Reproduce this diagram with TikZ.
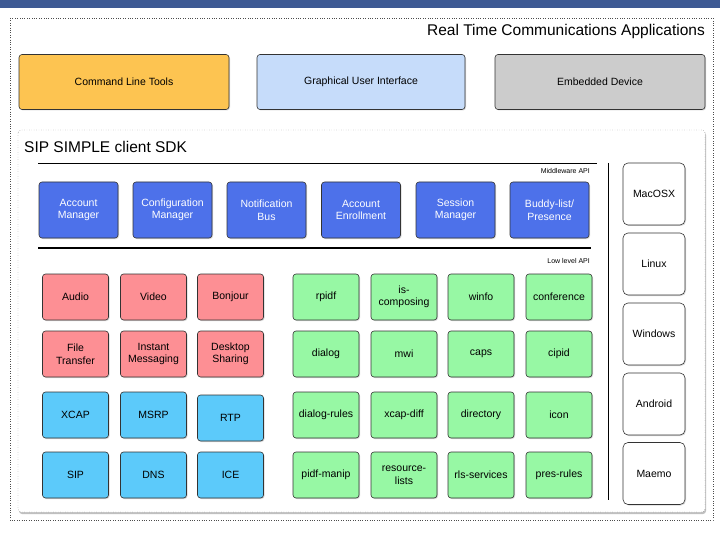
\documentclass[tikz,border=0pt]{standalone}
\usepackage{fontspec}
\setmainfont{Liberation Sans}
\usetikzlibrary{shadows}
\definecolor{topbar}{HTML}{3E5A94}
\definecolor{cyel}{HTML}{FDC451}
\definecolor{clb}{HTML}{C6DCFA}
\definecolor{cgr}{HTML}{CCCCCC}
\definecolor{cmid}{HTML}{4D71EA}
\definecolor{cred}{HTML}{FD8F94}
\definecolor{ccy}{HTML}{5CCAFA}
\definecolor{cgrn}{HTML}{97F8A4}
\begin{document}
\begin{tikzpicture}[x=1pt,y=-1pt,
  box/.style={draw=black!80,rounded corners=3pt,line width=0.6pt,inner sep=0pt,align=center,font=\fontsize{10.5}{12.5}\selectfont,drop shadow={shadow xshift=1pt,shadow yshift=-1pt,opacity=0.3}},
  app/.style={box,minimum width=210pt,minimum height=55pt},
  mid/.style={box,fill=cmid,text=white,minimum width=79pt,minimum height=56pt},
  sm/.style={box,minimum width=66pt,minimum height=46pt},
  os/.style={box,fill=white,minimum width=62pt,minimum height=62pt,rounded corners=5pt},
  lbl/.style={font=\fontsize{7}{8}\selectfont,anchor=east,inner sep=0pt}]
\useasboundingbox (0,0) rectangle (720,540);
\fill[topbar] (0,0) rectangle (720,8);
\draw[dotted,black!70] (10,18) rectangle (713,520);
\node[anchor=east,font=\fontsize{15.5}{17}\selectfont,inner sep=0pt] (rt) at (705,31) {Real Time Communications Applications};
\node[app,fill=cyel] (clt) at (124,82) {Command Line Tools};
\node[app,fill=clb,minimum width=208pt] (gui) at (361,82) {Graphical User Interface};
\node[app,fill=cgr] (emb) at (600,82) {Embedded Device};
\draw[dotted,black!70,fill=white,rounded corners=3pt,drop shadow={shadow xshift=1pt,shadow yshift=-2pt,opacity=0.5}] (18,130) rectangle (705,512);
\node[anchor=west,font=\fontsize{15.5}{17}\selectfont,inner sep=0pt] (sdk) at (24,147) {SIP SIMPLE client SDK};
\draw[line width=0.8pt] (38,163) -- (597,163);
\node[lbl] (mw) at (590,171) {Middleware API};
\node[mid] (m1) at (78.5,210) {Account\\Manager};
\node[mid] (m2) at (172.5,210) {Configuration\\Manager};
\node[mid] (m3) at (266.5,210) {Notification\\Bus};
\node[mid] (m4) at (361,210) {Account\\Enrollment};
\node[mid] (m5) at (455.5,210) {Session\\Manager};
\node[mid] (m6) at (549.5,210) {Buddy-list/\\Presence};
\draw[line width=2pt] (38,248) -- (591,248);
\node[lbl] (ll) at (590,261) {Low level API};
% red
\node[sm,fill=cred] (r1) at (75.5,297) {Audio};
\node[sm,fill=cred] (r2) at (153.5,297) {Video};
\node[sm,fill=cred] (r3) at (230.5,297) {Bonjour};
\node[sm,fill=cred] (r4) at (75.5,354) {File\\Transfer};
\node[sm,fill=cred] (r5) at (153.5,354) {Instant\\Messaging};
\node[sm,fill=cred] (r6) at (230.5,354) {Desktop\\Sharing};
\node[sm,fill=ccy] (b1) at (75.5,415) {XCAP};
\node[sm,fill=ccy] (b2) at (153.5,415) {MSRP};
\node[sm,fill=ccy] (b3) at (230.5,418) {RTP};
\node[sm,fill=ccy] (b4) at (75.5,475) {SIP};
\node[sm,fill=ccy] (b5) at (153.5,475) {DNS};
\node[sm,fill=ccy] (b6) at (230.5,475) {ICE};
% green
\foreach \n/\x/\y/\t in {g1/326/297/rpidf,g2/404/297/{is-\\composing},g3/481/297/winfo,g4/559/297/conference,
  g5/326/354/dialog,g6/404/354/mwi,g7/481/354/caps,g8/559/354/cipid,
  g9/326/415/dialog-rules,g10/404/415/xcap-diff,g11/481/415/directory,g12/559/415/icon,
  g13/326/475/pidf-manip,g14/404/475/{resource-\\lists},g15/481/475/rls-services,g16/559/475/pres-rules}
  \node[sm,fill=cgrn] (\n) at (\x,\y) {\t};
\draw[line width=0.8pt] (608,163) -- (608,500);
\node[os] (o1) at (654,194) {MacOSX};
\node[os] (o2) at (654,264) {Linux};
\node[os] (o3) at (654,334) {Windows};
\node[os] (o4) at (654,404) {Android};
\node[os] (o5) at (654,473.5) {Maemo};
\end{tikzpicture}
\end{document}
